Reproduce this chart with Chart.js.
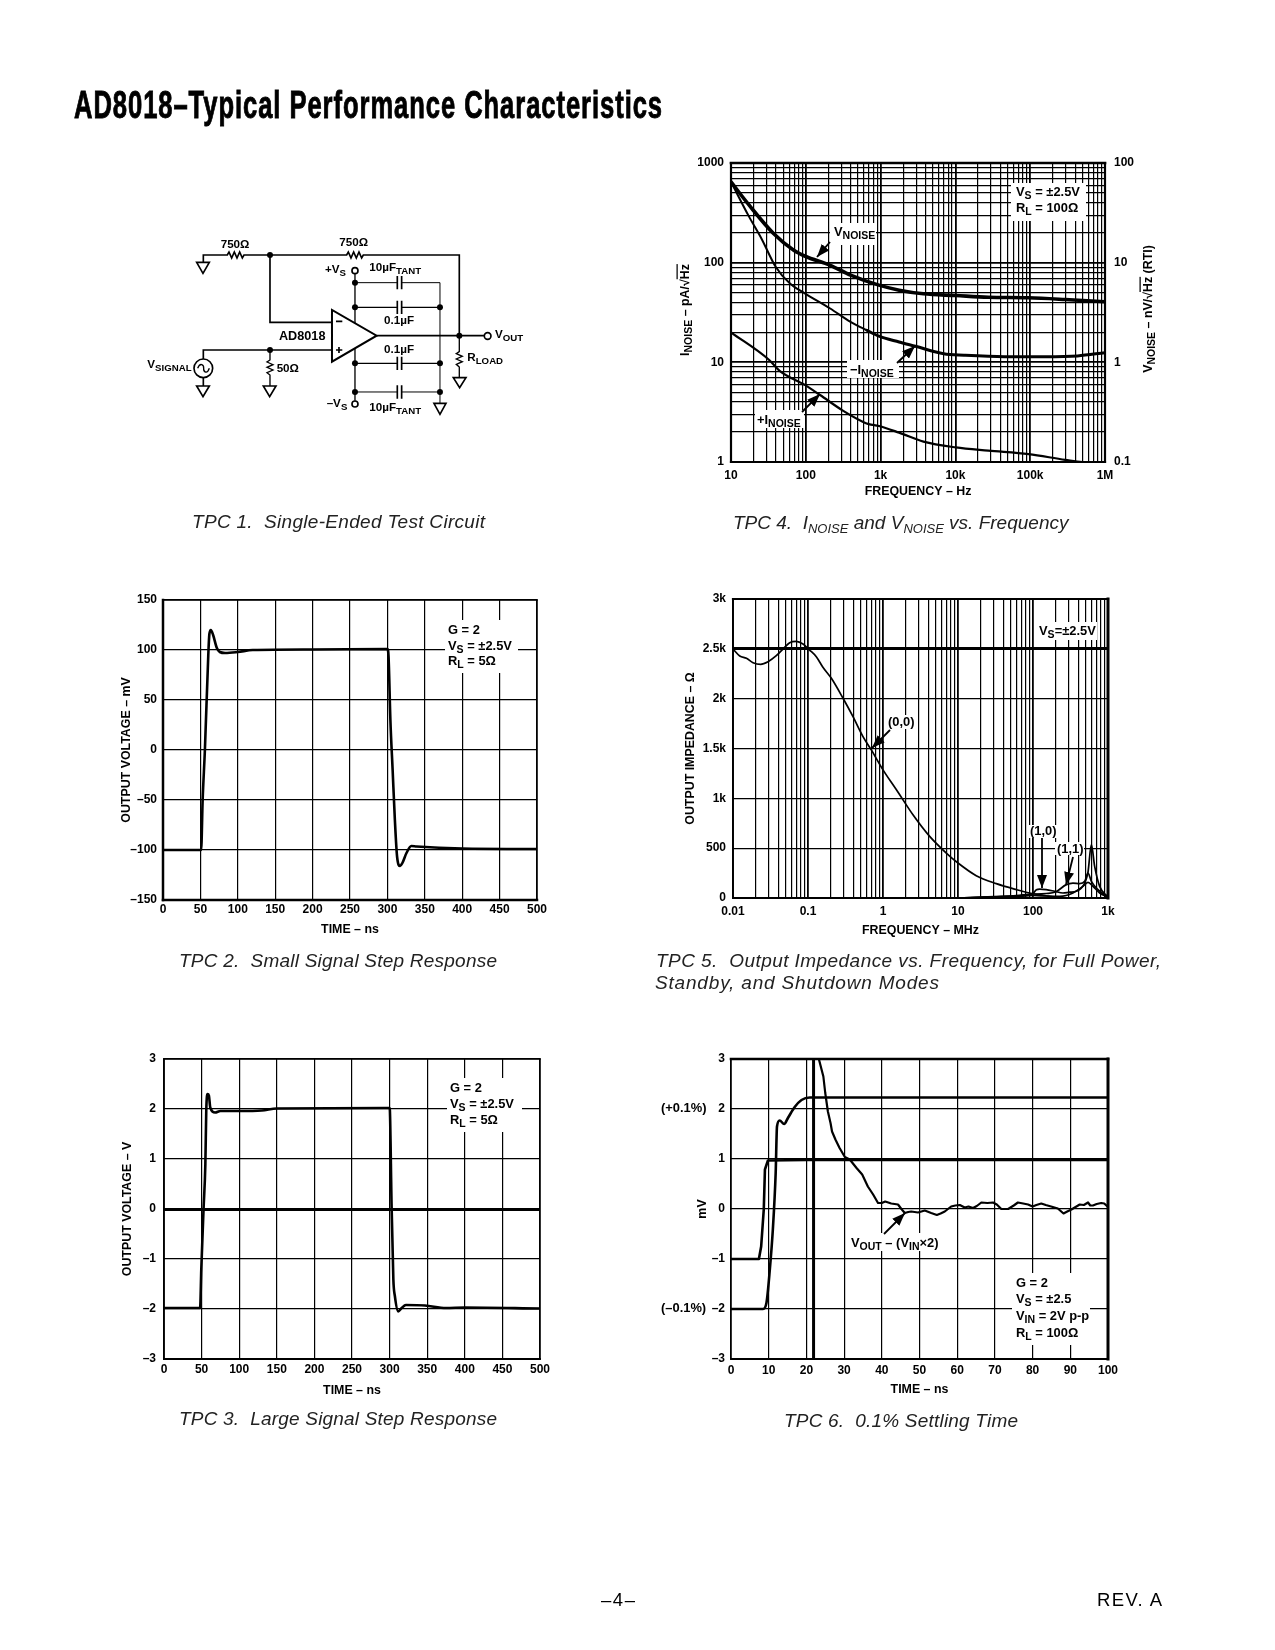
<!DOCTYPE html>
<html><head><meta charset="utf-8">
<script src="https://cdn.jsdelivr.net/npm/chart.js@4"></script>
<style>
html,body{margin:0;padding:0;background:#fff;width:1275px;height:1650px;overflow:hidden}
canvas{position:absolute}
svg{position:absolute;left:0;top:0}
text{font-family:'Liberation Sans';fill:#000;white-space:pre}
.l{font-weight:bold;font-size:12.9px}
.t{font-weight:bold;font-size:12.4px}
.c{font-style:italic;font-size:19px;fill:#222}
.sch text{font-weight:bold;font-size:35px}
.sch .p{fill:none;stroke:#000}
</style></head><body>
<canvas id="c2"></canvas><canvas id="c3"></canvas><canvas id="c4"></canvas><canvas id="c5"></canvas><canvas id="c6"></canvas>
<svg id="ov" width="1275" height="1650" xmlns="http://www.w3.org/2000/svg">
<defs><marker id="ah" markerUnits="userSpaceOnUse" markerWidth="14" markerHeight="10" refX="13" refY="5" orient="auto"><path d="M0,0 L13,5 L0,10 Z" fill="#000"/></marker></defs>
<text x="74" y="118" font-size="38" font-weight="bold" stroke="#000" stroke-width="0.9" style="letter-spacing:1.4px" textLength="589" lengthAdjust="spacingAndGlyphs">AD8018–Typical Performance Characteristics</text>

<g class="sch" transform="translate(130,225) scale(0.3333)">
<polyline class="p" stroke-width="5" points="220,112 220,90 292,90 297,81 305,99 313,81 321,99 329,81 337,99 342,90 650,90 655,81 663,99 671,81 679,99 687,81 695,99 700,90 988,90 988,333"/>
<polyline class="p" stroke-width="5" points="420,90 420,292 606,292"/>
<polyline class="p" stroke-width="5" points="740,332 1062,332"/>
<polyline class="p" stroke-width="5" points="606,375 220,375 220,402"/>
<polyline class="p" stroke-width="5" points="220,458 220,483"/>
<polyline class="p" stroke-width="4" points="420,375 420,405 411,411 429,419 411,427 429,435 411,443 420,450 420,483"/>
<polyline class="p" stroke-width="4" points="988,332 988,380 979,386 997,394 979,402 997,410 979,418 988,426 988,458"/>
<polyline class="p" stroke-width="4" points="675,147 675,295"/>
<polyline class="p" stroke-width="4" points="675,370 675,527"/>
<polyline class="p" stroke-width="3" points="675,173 801,173"/><polyline class="p" stroke-width="3" points="815,173 930,173 930,535"/>
<polyline class="p" stroke-width="4" points="675,247 801,247"/><polyline class="p" stroke-width="4" points="815,247 930,247"/>
<polyline class="p" stroke-width="4" points="675,415 801,415"/><polyline class="p" stroke-width="4" points="815,415 930,415"/>
<polyline class="p" stroke-width="3" points="675,501 801,501"/><polyline class="p" stroke-width="3" points="815,501 930,501"/>
<g class="p" stroke-width="5"><path d="M802,153V193M815,153V193M802,227V267M815,227V267M802,395V435M815,395V435M802,481V521M815,481V521"/></g>
<path d="M606,255 L606,410 L740,332 Z" fill="#fff" stroke="#000" stroke-width="6"/>
<path d="M618,289H637M618,375H637M627,366V384" stroke="#000" stroke-width="5"/>
<g fill="#fff" stroke="#000" stroke-width="5">
<path d="M200,112H238L219,145Z"/><path d="M200,483H238L219,515Z"/><path d="M400,483H438L419,515Z"/><path d="M970,458H1008L989,488Z"/><path d="M912,535H948L930,568Z"/>
<circle cx="675" cy="137" r="9"/><circle cx="675" cy="537" r="9"/><circle cx="1073" cy="333" r="10"/><circle cx="220" cy="430" r="28"/>
</g>
<path d="M203,430 C210,412 222,418 221,430 C220,442 232,448 238,430" fill="none" stroke="#000" stroke-width="4"/>
<g fill="#000"><circle cx="420" cy="90" r="9"/><circle cx="420" cy="375" r="9"/><circle cx="988" cy="332" r="9"/><circle cx="675" cy="173" r="9"/><circle cx="675" cy="247" r="9"/><circle cx="930" cy="247" r="9"/><circle cx="675" cy="415" r="9"/><circle cx="930" cy="415" r="9"/><circle cx="675" cy="501" r="9"/><circle cx="930" cy="501" r="9"/></g>
<text x="272" y="68">750Ω</text><text x="628" y="64">750Ω</text>
<text x="585" y="145">+V<tspan dy="9" font-size="29">S</tspan></text>
<text x="718" y="138">10µF<tspan dy="9" font-size="29">TANT</tspan></text>
<text x="762" y="298">0.1µF</text>
<text x="447" y="345" style="font-size:38px">AD8018</text>
<text x="762" y="383">0.1µF</text>
<text x="440" y="441">50Ω</text>
<text x="52" y="430">V<tspan dy="9" font-size="29">SIGNAL</tspan></text>
<text x="590" y="545">–V<tspan dy="9" font-size="29">S</tspan></text>
<text x="718" y="558">10µF<tspan dy="9" font-size="29">TANT</tspan></text>
<text x="1095" y="340">V<tspan dy="9" font-size="29">OUT</tspan></text>
<text x="1012" y="408">R<tspan dy="9" font-size="29">LOAD</tspan></text>
</g>

<text class="c" x="192" y="528" textLength="293" lengthAdjust="spacing">TPC 1.  Single-Ended Test Circuit</text>
<text class="c" x="733" y="529">TPC 4.  I<tspan dy="4" font-size="13">NOISE</tspan><tspan dy="-4"> and V</tspan><tspan dy="4" font-size="13">NOISE</tspan><tspan dy="-4"> vs. Frequency</tspan></text>
<text class="c" x="179" y="967" textLength="318" lengthAdjust="spacing">TPC 2.  Small Signal Step Response</text>
<text class="c" x="656" y="967" textLength="505" lengthAdjust="spacing">TPC 5.  Output Impedance vs. Frequency, for Full Power,</text>
<text class="c" x="655" y="989" textLength="284" lengthAdjust="spacing">Standby, and Shutdown Modes</text>
<text class="c" x="179" y="1425" textLength="318" lengthAdjust="spacing">TPC 3.  Large Signal Step Response</text>
<text class="c" x="784" y="1427" textLength="234" lengthAdjust="spacing">TPC 6.  0.1% Settling Time</text>
<text x="601" y="1606" font-size="18.5" textLength="34" lengthAdjust="spacing">–4–</text>
<text x="1097" y="1606" font-size="18.5" textLength="65" lengthAdjust="spacing">REV. A</text>

<!-- TPC4 notes -->
<text class="t" transform="translate(688.5,310) rotate(-90)" text-anchor="middle">I<tspan dy="3" font-size="10.5">NOISE</tspan><tspan dy="-3"> – pA/√</tspan><tspan text-decoration="overline">Hz</tspan></text>
<text class="t" transform="translate(1151.5,309) rotate(-90)" text-anchor="middle">V<tspan dy="3" font-size="10.5">NOISE</tspan><tspan dy="-3"> – nV/√</tspan><tspan text-decoration="overline">Hz</tspan><tspan> (RTI)</tspan></text>
<rect x="1011" y="183" width="75" height="38" fill="#fff"/>
<text class="l" x="1016" y="196">V<tspan dy="3" font-size="10.5">S</tspan><tspan dy="-3"> = ±2.5V</tspan></text>
<text class="l" x="1016" y="212">R<tspan dy="3" font-size="10.5">L</tspan><tspan dy="-3"> = 100Ω</tspan></text>
<rect x="830" y="223" width="46" height="22" fill="#fff"/>
<text class="l" x="834" y="236">V<tspan dy="3" font-size="10.5">NOISE</tspan></text>
<line x1="830" y1="242" x2="817" y2="257" stroke="#000" stroke-width="1.8" marker-end="url(#ah)"/>
<rect x="847" y="360" width="52" height="18" fill="#fff"/>
<text class="l" x="850" y="374">−I<tspan dy="3" font-size="10.5">NOISE</tspan></text>
<line x1="897" y1="363" x2="915" y2="346" stroke="#000" stroke-width="1.8" marker-end="url(#ah)"/>
<rect x="755" y="410" width="49" height="18" fill="#fff"/>
<text class="l" x="757" y="424">+I<tspan dy="3" font-size="10.5">NOISE</tspan></text>
<line x1="802" y1="412" x2="820" y2="394" stroke="#000" stroke-width="1.8" marker-end="url(#ah)"/>

<!-- TPC2 notes -->
<rect x="445" y="620" width="73" height="53" fill="#fff"/>
<text class="l" x="448" y="634">G = 2</text>
<text class="l" x="448" y="650">V<tspan dy="3" font-size="10.5">S</tspan><tspan dy="-3"> = ±2.5V</tspan></text>
<text class="l" x="448" y="665">R<tspan dy="3" font-size="10.5">L</tspan><tspan dy="-3"> = 5Ω</tspan></text>

<!-- TPC3 notes -->
<rect x="447" y="1078" width="75" height="54" fill="#fff"/>
<text class="l" x="450" y="1092">G = 2</text>
<text class="l" x="450" y="1108">V<tspan dy="3" font-size="10.5">S</tspan><tspan dy="-3"> = ±2.5V</tspan></text>
<text class="l" x="450" y="1124">R<tspan dy="3" font-size="10.5">L</tspan><tspan dy="-3"> = 5Ω</tspan></text>

<!-- TPC5 notes -->
<rect x="1037" y="622" width="60" height="18" fill="#fff"/>
<text class="l" x="1039" y="635">V<tspan dy="3" font-size="10.5">S</tspan><tspan dy="-3">=±2.5V</tspan></text>
<rect x="886" y="715" width="29" height="14" fill="#fff"/>
<text class="l" x="888" y="726">(0,0)</text>
<line x1="890" y1="730" x2="872" y2="748" stroke="#000" stroke-width="1.8" marker-end="url(#ah)"/>
<rect x="1028" y="825" width="29" height="13" fill="#fff"/>
<text class="l" x="1030" y="835">(1,0)</text>
<line x1="1042" y1="838" x2="1042" y2="888" stroke="#000" stroke-width="1.8" marker-end="url(#ah)"/>
<rect x="1055" y="842" width="29" height="13" fill="#fff"/>
<text class="l" x="1057" y="853">(1,1)</text>
<line x1="1073" y1="857" x2="1066" y2="885" stroke="#000" stroke-width="1.8" marker-end="url(#ah)"/>

<!-- TPC6 notes -->
<text class="l" x="661" y="1112">(+0.1%)</text>
<text class="l" x="661" y="1312">(–0.1%)</text>
<rect x="848" y="1233" width="92" height="18" fill="#fff"/>
<text class="l" x="851" y="1247">V<tspan dy="3" font-size="10.5">OUT</tspan><tspan dy="-3"> – (V</tspan><tspan dy="3" font-size="10.5">IN</tspan><tspan dy="-3">×2)</tspan></text>
<line x1="884" y1="1234" x2="905" y2="1213" stroke="#000" stroke-width="1.8" marker-end="url(#ah)"/>
<rect x="1012" y="1273" width="78" height="72" fill="#fff"/>
<text class="l" x="1016" y="1287">G = 2</text>
<text class="l" x="1016" y="1303">V<tspan dy="3" font-size="10.5">S</tspan><tspan dy="-3"> = ±2.5</tspan></text>
<text class="l" x="1016" y="1320">V<tspan dy="3" font-size="10.5">IN</tspan><tspan dy="-3"> = 2V p-p</tspan></text>
<text class="l" x="1016" y="1337">R<tspan dy="3" font-size="10.5">L</tspan><tspan dy="-3"> = 100Ω</tspan></text>
</svg>
<script>
// ---- TPC 2: small signal step (ns, mV)
const smallTime=[0,50,51,53,56,60.5,62,64,67,72,76,83,100,120,200,300,301.5,304,307,310,313,317,320,325.5,332,339,400,500];
const smallVolt=[-100,-100,-100,-50,0,94,116,120,115,102,98,97,98,100,100.5,101,94,30,-20,-70,-107,-116,-113,-103,-96,-96.5,-98.5,-99];
// ---- TPC 3: large signal step (ns, V)
const largeTime=[0,48,49.6,52.6,55,56.2,58,59.7,61.5,68,75,100,130,150,300,300.4,302.6,305,307,311.5,316,321.7,347,375,400,500];
const largeVolt=[-1.98,-1.98,-1.2,0,0.9,1.97,2.3,2.27,2.03,1.93,1.96,1.96,1.97,2.01,2.02,1.97,0.1,-1.41,-1.74,-2.05,-1.98,-1.92,-1.93,-1.98,-1.97,-1.99];
// ---- TPC 4: noise vs frequency (Hz, pA or nV/rtHz)
const vnoiseFreq=[10,17.5,37,69,98,212,396,948,1770,3740,10100,27500,95500,294000,1000000];
const vnoiseVal=[646,377,196,133,116,94,75,59.5,53,48.7,46.8,45,44.4,42.7,40.5];
const inegFreq=[10,17.5,25.5,39.5,61,98,212,396,653,948,1770,2920,6980,13000,45400,158000,429000,1000000];
const inegVal=[646,288,175,91,62,49,34.7,25.5,21,18.3,16,14.5,12.2,11.8,11.4,11.4,11.6,12.5];
const iposFreq=[10,32.7,44.7,98,155,309,575,692,948,1770,3740,10100,27500,95500,294000,500000,1000000];
const iposVal=[20,10.5,8.2,5.9,4.7,3.3,2.54,2.4,2.3,1.97,1.6,1.4,1.3,1.2,1.05,1,1];
const noiseXLabels=['10','100','1k','10k','100k','1M'];
// ---- TPC 5: output impedance (MHz, ohm)
const z00Freq=[0.01,0.0123,0.0151,0.0185,0.0234,0.0293,0.0378,0.0464,0.057,0.0699,0.0858,0.105,0.129,0.158,0.205,0.293,0.398,0.541,0.698,1,1.51,2.51,4.19,6.98,10,17.5,32.4,60,90,136,227,1000];
const z00Val=[2498,2428,2405,2361,2345,2371,2431,2498,2562,2575,2548,2488,2421,2315,2204,2004,1820,1620,1486,1286,1086,835,618,451,351,224,144,84,50,27,5,0];
const z10Freq=[10,30,60,100,111,123,150,195,251,308,378,489,541,600,664,774,1000];
const z10Val=[0,12,20,45,84,90,84,67,50,58,67,150,260,535,317,117,10];
const z11Freq=[10,30,60,100,111,150,200,278,341,419,489,541,600,736,1000];
const z11Val=[0,15,25,40,40,45,60,134,150,144,167,250,167,84,10];
const zOffFreq=[10,30,60,100,150,227,341,464,541,631,774,1000];
const zOffVal=[0,8,15,25,20,17,50,117,157,117,50,10];
// ---- TPC 6: settling (ns, mV)
const vinTime=[0,7.4,8,8.7,9,9.8,20,100];
const vinVal=[-1,-1,-0.75,0,0.79,0.97,0.98,0.98];
const voutTime=[0,8.5,9.4,10.3,11.1,11.85,12.2,12.9,14.1,15.1,16.9,18.7,20.9,100];
const voutVal=[-2,-2,-1.88,-1.21,-0.41,0.72,1.65,1.77,1.7,1.82,2.04,2.18,2.23,2.23];
const spikeTime=[21.9,21.9];
const spikeVal=[-3.2,3.2];
const errTime=[23.3,24.5,25,25.7,26.4,26.8,27.7,28.8,30.2,31.5,33.3,34.8,36.3,37.7,39,40,40.9,42.5,44.3,45.2,46.1,47,47.8,49.6,51.4,53.1,54.6,55.6,56.7,58.4,59.5,60.7,62,63,64.2,65.2,66.4,68,69.5,70.5,71.7,73.5,75,76.1,77.5,78.8,80,81,82.3,83.5,84.9,86.7,88.2,89.2,90.3,92.5,93.6,94.7,95.3,96,97,98.2,99,100];
const errVal=[3,2.65,2.32,1.95,1.72,1.55,1.39,1.22,1.04,0.99,0.82,0.69,0.45,0.29,0.12,0.12,0.15,0.11,0.09,0,-0.08,-0.06,-0.05,-0.07,-0.03,-0.08,-0.12,-0.09,-0.05,0.05,0.07,0.08,0.03,0.05,0.02,0.06,0.13,0.12,0.13,0.09,0,0,0.07,0.13,0.11,0.09,0.05,0.08,0.11,0.08,0.05,0.01,-0.09,-0.05,-0.01,0.09,0.08,0.13,0.07,0.07,0.1,0.12,0.11,0.04];

const FONT="'Liberation Sans'";
Chart.defaults.font.family=FONT;Chart.defaults.font.size=12;Chart.defaults.font.weight='bold';Chart.defaults.color='#000';
const zip=(a,b)=>a.map((x,i)=>({x,y:b[i]}));
const line=(xs,ys,w,extra)=>Object.assign({data:zip(xs,ys),borderColor:'#000',borderWidth:w,pointRadius:0,fill:false,borderJoinStyle:'round',borderCapStyle:'round'},extra||{});
const smooth={cubicInterpolationMode:'monotone'};
const GRID=1.2;
const TITLE_FONT={size:12.4,weight:'bold'};

const framePlugin={id:'frame',afterDatasetsDraw(ch,_,o){
  const {left:l,right:r,top:t,bottom:b}=ch.chartArea,c=ch.ctx;
  c.save();c.strokeStyle='#000';c.lineCap='square';
  [[o.l,l,t,l,b],[o.r,r,t,r,b],[o.t,l,t,r,t],[o.b,l,b,r,b]].forEach(([w,a,e,f,g])=>{c.lineWidth=w;c.beginPath();c.moveTo(a,e);c.lineTo(f,g);c.stroke();});
  c.restore();}};
Chart.register(framePlugin);

// decade grid: every 1..9 multiple between two powers of ten
function decades(eMin,eMax){const t=[];for(let e=eMin;e<eMax;e++)for(let m=1;m<10;m++)t.push(Number((m*Math.pow(10,e)).toPrecision(3)));t.push(Number(Math.pow(10,eMax).toPrecision(3)));return t;}
const zeroPad=s=>{s.paddingLeft=s.paddingRight=s.paddingTop=s.paddingBottom=0;};

function linAxis(min,max,step,pad,fmt,title,fit,dim,wide){
  return Object.assign({type:'linear',min,max,
    afterFit(s){s[dim]=fit;zeroPad(s);},
    afterBuildTicks(s){const t=[];for(let v=min;v<=max+1e-9;v+=step)t.push({value:v});s.ticks=t;},
    border:{display:false},
    grid:{color:'#000',drawTicks:false,lineWidth:c=>(wide&&c.tick&&wide(c.tick.value))?3:GRID},
    ticks:{padding:pad,autoSkip:false,maxRotation:0,callback:fmt},
    title:title?{display:true,text:title,padding:0,font:TITLE_FONT,color:'#000'}:{display:false}
  });
}
function logAxis(eMin,eMax,pad,labels,title,fit,dim){
  const list=decades(eMin,eMax);
  return {type:'logarithmic',min:Math.pow(10,eMin),max:Math.pow(10,eMax),
    afterFit(s){s[dim]=fit;zeroPad(s);},
    afterBuildTicks(s){s.ticks=list.map(v=>({value:v}));},
    border:{display:false},
    grid:{color:'#000',drawTicks:false,lineWidth:c=>{const v=c.tick&&c.tick.value;return (v&&labels[v]!==undefined)?1.8:GRID;}},
    ticks:{padding:pad,autoSkip:false,maxRotation:0,callback:v=>labels[v]??''},
    title:title?{display:true,text:title,padding:0,font:TITLE_FONT,color:'#000'}:{display:false}
  };
}
const dash=v=>v<0?'–'+Math.abs(v):String(v);

function place(id,b,yCx,xCy,rightW){
  const cv=document.getElementById(id);
  const left=Math.round(yCx-7.2),bottom=Math.round(xCy+7.2),top=b.T-12,right=b.R+(rightW||25);
  cv.width=right-left;cv.height=bottom-top;
  cv.style.left=left+'px';cv.style.top=top+'px';cv.style.width=(right-left)+'px';cv.style.height=(bottom-top)+'px';
  return {cv,yW:b.L-left,xH:bottom-b.B,pad:{top:12,right:rightW?0:25,left:0,bottom:0}};
}
function make(p,datasets,scales,frame){
  return new Chart(p.cv,{type:'line',data:{datasets},options:{responsive:false,animation:false,devicePixelRatio:1,
    parsing:true,normalized:false,layout:{padding:p.pad},
    plugins:{legend:{display:false},tooltip:{enabled:false},title:{display:false},frame},scales}});
}

// TPC 2
{const p=place('c2',{L:163,T:600,R:537,B:900},126,930);
 make(p,[line(smallTime,smallVolt,2.6,smooth)],{
  x:linAxis(0,500,50,2,dash,'TIME – ns',p.xH,'height'),
  y:linAxis(-150,150,50,6,dash,'OUTPUT VOLTAGE – mV',p.yW,'width')},{l:2.5,r:1.5,t:1.5,b:2.5});}
// TPC 3
{const p=place('c3',{L:164,T:1059,R:540,B:1359},127,1391);
 make(p,[line(largeTime,largeVolt,2.6,smooth)],{
  x:linAxis(0,500,50,3,dash,'TIME – ns',p.xH,'height'),
  y:linAxis(-3,3,1,8,dash,'OUTPUT VOLTAGE – V',p.yW,'width',v=>v===0)},{l:1.8,r:1.5,t:1.5,b:1.8});}
// TPC 4
{const p=place('c4',{L:731,T:163,R:1105,B:462},685,492,45);
 const xl={10:noiseXLabels[0],100:noiseXLabels[1],1000:noiseXLabels[2],10000:noiseXLabels[3],100000:noiseXLabels[4],1000000:noiseXLabels[5]};
 const taper={cubicInterpolationMode:'monotone',segment:{borderWidth:c=>c.p0.parsed.x<400?2:3}};
 make(p,[line(vnoiseFreq,vnoiseVal,3.6,smooth),line(inegFreq,inegVal,2.8,taper),line(iposFreq,iposVal,2.2,smooth)],{
  x:logAxis(1,6,6,xl,'FREQUENCY – Hz',p.xH,'height'),
  y:logAxis(0,3,7,{1:'1',10:'10',100:'100',1000:'1000'},null,p.yW,'width'),
  y2:Object.assign(logAxis(-1,2,9,{0.1:'0.1',1:'1',10:'10',100:'100'},null,45,'width'),{axis:'y',position:'right',grid:{display:false,drawTicks:false}})
 },{l:2.2,r:2.2,t:2.6,b:2.2});}
// TPC 5
{const p=place('c5',{L:733,T:599,R:1108,B:898},690,931);
 make(p,[line(z00Freq,z00Val,1.7,smooth),line(z10Freq,z10Val,1.7,smooth),line(z11Freq,z11Val,1.7,smooth),line(zOffFreq,zOffVal,1.7,smooth)],{
  x:logAxis(-2,3,6,{0.01:'0.01',0.1:'0.1',1:'1',10:'10',100:'100',1000:'1k'},'FREQUENCY – MHz',p.xH,'height'),
  y:linAxis(0,3000,500,7,v=>v>=1000?(v/1000)+'k':String(v),'OUTPUT IMPEDANCE – Ω',p.yW,'width',v=>v===2500)},{l:1.8,r:3,t:2.2,b:1.8});}
// TPC 6
{const p=place('c6',{L:731,T:1059,R:1108,B:1359},702,1390);
 make(p,[line(vinTime,vinVal,2.6),line(voutTime,voutVal,2.6,smooth),line(spikeTime,spikeVal,3),line(errTime,errVal,2.2)],{
  x:linAxis(0,100,10,4,dash,'TIME – ns',p.xH,'height'),
  y:linAxis(-3,3,1,6,dash,'mV',p.yW,'width')},{l:1.5,r:3,t:2.6,b:1.8});}
</script>
</body></html>
